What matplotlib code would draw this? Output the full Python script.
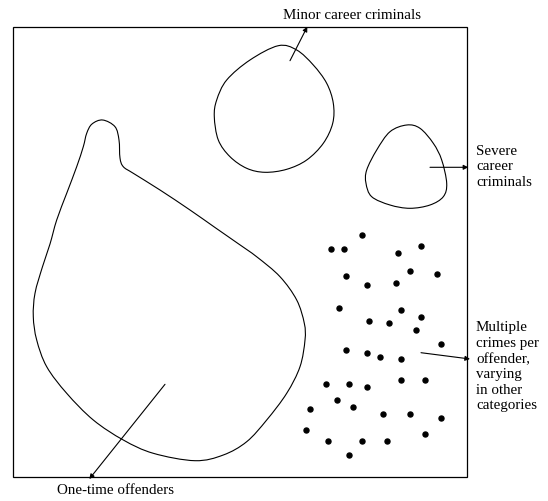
import numpy as np
import matplotlib.pyplot as plt
from matplotlib.path import Path
from matplotlib.patches import PathPatch, Rectangle

# outlines (pixel coords, y down)
minor_outline = [(278.3, 45.7), (296.7, 50), (313.3, 65), (326.7, 83.3), (333.3, 103.3),
                 (332.7, 123.3), (323.3, 143.3), (306.7, 160), (286.7, 169.3), (265, 172.3),
                 (246.7, 168.3), (230, 156.7), (218.3, 140), (214.3, 116.7), (216.7, 100),
                 (226.7, 80), (250, 60)]
severe_outline = [(406.7, 125), (420, 128.3), (433.3, 143.3), (441.7, 160), (446.7, 183.3),
                  (443.3, 196.7), (430, 205), (410, 208.3), (390, 205), (371.7, 196.7),
                  (366, 183.3), (366.7, 170), (376.7, 150), (390, 131.7)]
onetime_outline = [(102.7, 120), (115, 126.7), (119, 140), (120, 158), (123.3, 166.7),
                   (133.3, 173.3), (160, 190), (190, 210), (215, 227.5), (238, 243.5),
                   (257, 257), (280, 276.7), (296.7, 300), (304.3, 323.3), (305, 340),
                   (300, 366.7), (286.7, 393.3), (266.7, 420), (246.7, 441.7), (223.3, 455),
                   (195, 460.7), (153.3, 453.3), (123.3, 440), (93.3, 420), (66.7, 393.3),
                   (46.7, 366.7), (36.7, 340), (33.3, 316.7), (35, 293.3), (42.5, 266.7),
                   (50, 244), (56.7, 220), (66.7, 193.3), (76.7, 166.7), (83.3, 146.7),
                   (86.7, 133.3), (92, 124)]

dots_x = [362, 330.7, 344, 398.3, 421, 346.3, 366.7, 396, 409.7, 437, 339.3, 369, 389.3,
          400.7, 421, 416.3, 441.3, 346.3, 366.7, 380, 400.7, 400.7, 425.3, 326, 348.7,
          366.7, 337.3, 353, 310, 382.7, 409.7, 441.3, 305.7, 328.3, 362, 387, 425.3, 348.7]
dots_y = [235.3, 248.7, 248.7, 253.3, 246.3, 275.7, 285, 282.7, 271.3, 273.7, 307.7, 321,
          323.3, 310, 316.7, 330, 343.7, 350.3, 352.7, 357, 359.3, 380, 380, 384.3, 384.3,
          386.7, 400.3, 407, 409.3, 413.7, 413.7, 418.3, 429.7, 441, 441, 441, 434, 454.7]

labels = ['Minor career criminals', 'Severe\ncareer\ncriminals',
          'Multiple\ncrimes per\noffender,\nvarying\nin other\ncategories', 'One-time offenders']


def smooth_closed(pts):
    # closed Catmull-Rom outline drawn as cubic bezier segments
    p = np.array(pts, dtype=float)
    n = len(p)
    verts = [p[0]]
    codes = [Path.MOVETO]
    for i in range(n):
        p0, p1, p2, p3 = p[i - 1], p[i], p[(i + 1) % n], p[(i + 2) % n]
        verts += [p1 + (p2 - p0) / 6, p2 - (p3 - p1) / 6, p2]
        codes += [Path.CURVE4] * 3
    return Path(verts, codes)


plt.rcParams['font.family'] = ['Liberation Serif', 'DejaVu Serif']
fig = plt.figure(figsize=(5.48, 5.01), dpi=100)
ax = fig.add_axes([0, 0, 1, 1])
ax.set_xlim(0, 548)
ax.set_ylim(501, 0)
ax.axis('off')

ax.add_patch(Rectangle((13.3, 27.3), 453.4, 450, fill=False, lw=0.9, ec='black'))
for outline in (minor_outline, severe_outline, onetime_outline):
    ax.add_patch(PathPatch(smooth_closed(outline), fill=False, lw=0.8, ec='black'))

ax.plot(dots_x, dots_y, 'o', color='black', ms=3.6, ls='none')

arrow = dict(arrowstyle='-|>', color='black', lw=0.8, mutation_scale=7, shrinkA=0, shrinkB=0)
ax.annotate('', xy=(307.3, 26.7), xytext=(290, 60.7), arrowprops=arrow)
ax.annotate('', xy=(468.3, 167.3), xytext=(430, 167.3), arrowprops=arrow)
ax.annotate('', xy=(470, 359), xytext=(421, 352.7), arrowprops=arrow)
ax.annotate('', xy=(89.3, 479), xytext=(165, 384.3), arrowprops=arrow)

fs = 10.8
ax.text(352, 15, labels[0], ha='center', va='center', fontsize=fs)
ax.text(476, 167, labels[1], ha='left', va='center', fontsize=fs, linespacing=1.26)
ax.text(476, 367, labels[2], ha='left', va='center', fontsize=fs, linespacing=1.26)
ax.text(115.5, 490, labels[3], ha='center', va='center', fontsize=fs)

fig.savefig('out.png', dpi=100)
